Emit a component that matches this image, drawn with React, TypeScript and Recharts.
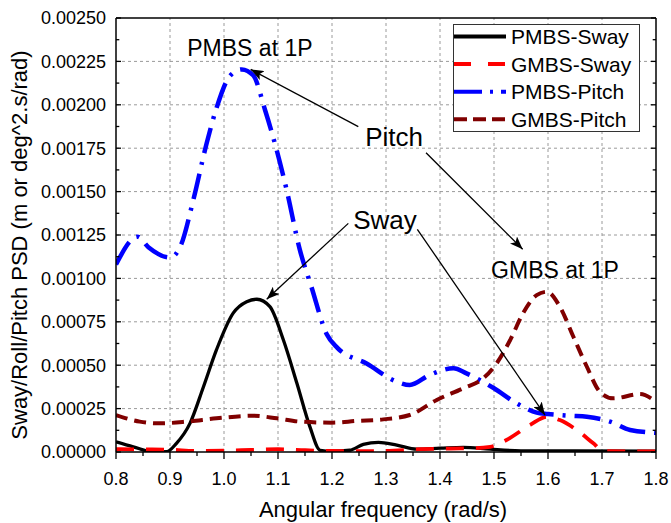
import React from "react";
import { LineChart, Line, XAxis, YAxis, ReferenceLine, ReferenceDot } from "recharts";

// PSD curves (rad/s vs PSD)
const pmbsSwayFreq = [0.8, 0.832, 0.869, 0.894, 0.912, 0.937, 0.962, 0.986, 1.017, 1.042, 1.061, 1.085, 1.11, 1.135, 1.159, 1.178, 1.2, 1.233, 1.258, 1.286, 1.32, 1.357, 1.4, 1.443, 1.493, 1.55, 1.65, 1.8];
const pmbsSwayPsd = [0.000059, 0.00003, 0.0, 0.000002, 0.00005, 0.000165, 0.000376, 0.000588, 0.0008, 0.000866, 0.00088, 0.000837, 0.000645, 0.000396, 0.000146, 0.00001, 0.000005, 0.00001, 0.000044, 0.000056, 0.00004, 0.000017, 0.000022, 0.000027, 0.000016, 0.000007, 0.000006, 0.000005];

const gmbsSwayFreq = [0.8, 0.85, 0.9, 0.95, 1.0, 1.05, 1.1, 1.15, 1.2, 1.25, 1.3, 1.363, 1.42, 1.456, 1.493, 1.523, 1.567, 1.598, 1.622, 1.653, 1.684, 1.702, 1.75, 1.8];
const gmbsSwayPsd = [0.000017, 0.000015, 0.000013, 0.000006, 0.000008, 0.000012, 0.000016, 0.00001, 0.000006, 0.000005, 0.000006, 0.000016, 0.00002, 0.000021, 0.00003, 0.000069, 0.000156, 0.000203, 0.000184, 0.000127, 0.00005, 0.000006, 0.000004, 0.000004];

const pmbsPitchFreq = [0.8, 0.84, 0.86, 0.9, 0.92, 0.943, 0.968, 0.986, 1.011, 1.033, 1.054, 1.076, 1.094, 1.116, 1.14, 1.162, 1.19, 1.21, 1.264, 1.32, 1.344, 1.381, 1.425, 1.449, 1.5, 1.542, 1.579, 1.6, 1.641, 1.672, 1.715, 1.752, 1.8];
const pmbsPitchPsd = [0.00108, 0.00124, 0.00118, 0.00112, 0.00119, 0.00145, 0.00178, 0.00198, 0.002166, 0.002204, 0.00217, 0.00197, 0.00178, 0.00151, 0.00117, 0.00095, 0.00068, 0.0006, 0.00051, 0.000405, 0.000386, 0.000444, 0.000482, 0.000453, 0.000367, 0.00028, 0.000227, 0.000219, 0.000209, 0.000203, 0.000175, 0.000127, 0.000111];

const gmbsPitchFreq = [0.8, 0.844, 0.881, 0.931, 0.986, 1.054, 1.098, 1.141, 1.2, 1.246, 1.295, 1.344, 1.394, 1.443, 1.48, 1.505, 1.53, 1.554, 1.579, 1.598, 1.622, 1.647, 1.672, 1.696, 1.721, 1.77, 1.8];
const gmbsPitchPsd = [0.000213, 0.000175, 0.000165, 0.000175, 0.000194, 0.000209, 0.000194, 0.000175, 0.000169, 0.000179, 0.000188, 0.000213, 0.0003, 0.000367, 0.000424, 0.000511, 0.000645, 0.0008, 0.000904, 0.000923, 0.000837, 0.000664, 0.000491, 0.000347, 0.000309, 0.000334, 0.00029];

const seriesNames = ["PMBS-Sway", "GMBS-Sway", "PMBS-Pitch", "GMBS-Pitch"];

const xMajorTicks = [0.8, 0.9, 1.0, 1.1, 1.2, 1.3, 1.4, 1.5, 1.6, 1.7, 1.8];
const xMinorTicks = [0.85, 0.95, 1.05, 1.15, 1.25, 1.35, 1.45, 1.55, 1.65, 1.75];
const yMajorTicks = [0, 0.00025, 0.0005, 0.00075, 0.001, 0.00125, 0.0015, 0.00175, 0.002, 0.00225, 0.0025];
const yMinorTicks = [0.000125, 0.000375, 0.000625, 0.000875, 0.001125, 0.001375, 0.001625, 0.001875, 0.002125, 0.002375];

// annotation labels and arrows, in data units
const noteTexts = ["PMBS at 1P", "Pitch", "Sway", "GMBS at 1P"];
const noteFreq = [1.048, 1.315, 1.298, 1.613];
const notePsd = [0.002327, 0.001815, 0.001336, 0.001048];
const arrowFromFreq = [1.2487, 1.3741, 1.2302, 1.358];
const arrowFromPsd = [0.001874, 0.001724, 0.001317, 0.001283];
const arrowToFreq = [1.0494, 1.5531, 1.0791, 1.5944];
const arrowToPsd = [0.002204, 0.001168, 0.00088, 0.000213];

const toPoints = (xs: number[], ys: number[]) => xs.map((x, i) => ({ x, y: ys[i] }));
const seriesData = [
  toPoints(pmbsSwayFreq, pmbsSwayPsd),
  toPoints(gmbsSwayFreq, gmbsSwayPsd),
  toPoints(pmbsPitchFreq, pmbsPitchPsd),
  toPoints(gmbsPitchFreq, gmbsPitchPsd),
];

const styles = [
  { color: "#000000", width: 3.3, dash: undefined as string | undefined, legendDash: undefined as string | undefined },
  { color: "#ff0000", width: 3.8, dash: "18 12", legendDash: "17 17" },
  { color: "#0000ff", width: 4.5, dash: "26 9 3 9", legendDash: "28 8 3 8" },
  { color: "#800000", width: 4, dash: "12 7", legendDash: "13 6" },
];

const FONT = "'Liberation Sans', Arial, sans-serif";
const noteSizes = [23, 26, 26, 23];

const XTick = (p: any) => {
  const major = xMajorTicks.includes(p.payload.value);
  return (
    <g>
      <line x1={p.x} y1={p.y} x2={p.x} y2={p.y + (major ? 7 : 4)} stroke="#000" strokeWidth={1.3} />
      {major && (
        <text x={p.x} y={p.y + 33} textAnchor="middle" fontSize={18} fill="#000">
          {p.payload.value.toFixed(1)}
        </text>
      )}
    </g>
  );
};

const YTickLeft = (p: any) => {
  const major = yMajorTicks.includes(p.payload.value);
  return (
    <g>
      <line x1={p.x} y1={p.y} x2={p.x + (major ? 5 : 3.3)} y2={p.y} stroke="#000" strokeWidth={1.3} />
      {major && (
        <text x={p.x - 10} y={p.y} dy={6.3} textAnchor="end" fontSize={18} fill="#000">
          {p.payload.value.toFixed(5)}
        </text>
      )}
    </g>
  );
};

const YTickRight = (p: any) => {
  const major = yMajorTicks.includes(p.payload.value);
  return <line x1={p.x} y1={p.y} x2={p.x - (major ? 5 : 3.3)} y2={p.y} stroke="#000" strokeWidth={1.3} />;
};

const Arrow = (p: any) => (
  <line x1={p.x1} y1={p.y1} x2={p.x2} y2={p.y2} stroke="#000" strokeWidth={1.3} markerEnd="url(#arrowHead)" />
);

function LegendBox() {
  return (
    <div
      style={{
        position: "absolute", left: 453, top: 24, width: 185, height: 106,
        background: "#fff", border: "1px solid #333",
      }}
    >
      <svg width={185} height={106} style={{ display: "block" }}>
        {seriesNames.map((name, i) => {
          const cy = 11.5 + i * 27.6;
          const s = styles[i];
          return (
            <g key={name}>
              <line x1={0} y1={cy} x2={52} y2={cy} stroke={s.color} strokeWidth={4} strokeDasharray={s.legendDash} />
              <text x={57} y={cy + 7.5} fontSize={21} fill="#000" fontFamily={FONT}>{name}</text>
            </g>
          );
        })}
      </svg>
    </div>
  );
}

export default function App() {
  return (
    <div style={{ position: "absolute", left: 0, top: 0, width: 671, height: 523, fontFamily: FONT, background: "#fff" }}>
      <svg width={0} height={0} style={{ position: "absolute" }}>
        <defs>
          <marker id="arrowHead" markerUnits="userSpaceOnUse" markerWidth={14} markerHeight={10} refX={13} refY={5} orient="auto">
            <path d="M0,0 L13,5 L0,10 L3,5 Z" fill="#000" />
          </marker>
        </defs>
      </svg>
      <LineChart width={671} height={523} margin={{ top: 18, right: 0, bottom: 0, left: 0 }}>
        <XAxis
          dataKey="x" type="number" domain={[0.8, 1.8]} allowDataOverflow
          ticks={[...xMajorTicks, ...xMinorTicks]} interval={0}
          tick={XTick} tickLine={false} tickSize={0} tickMargin={0}
          axisLine={{ stroke: "#000", strokeWidth: 1.5 }} height={71}
          label={{
            content: (lp: any) => (
              <text x={lp.viewBox.x + lp.viewBox.width / 2 - 3} y={lp.viewBox.y + 65} textAnchor="middle" fontSize={22} fill="#000">
                Angular frequency (rad/s)
              </text>
            ),
          }}
        />
        <YAxis
          yAxisId="left" type="number" domain={[0, 0.0025]} allowDataOverflow
          ticks={[...yMajorTicks, ...yMinorTicks]} interval={0}
          tick={YTickLeft} tickLine={false} tickSize={0} tickMargin={0}
          axisLine={{ stroke: "#000", strokeWidth: 1.5 }} width={116}
          label={{
            content: (lp: any) => {
              const cx = lp.viewBox.x + 19;
              const cy = lp.viewBox.y + lp.viewBox.height / 2 + 10;
              return (
                <text x={cx} y={cy} transform={`rotate(-90, ${cx}, ${cy})`} textAnchor="middle" dominantBaseline="central" fontSize={22} fill="#000">
                  Sway/Roll/Pitch PSD (m or deg^2.s/rad)
                </text>
              );
            },
          }}
        />
        <YAxis
          yAxisId="right" orientation="right" type="number" domain={[0, 0.0025]} allowDataOverflow
          ticks={[...yMajorTicks, ...yMinorTicks]} interval={0}
          tick={YTickRight} tickLine={false} tickSize={0} tickMargin={0}
          axisLine={{ stroke: "#000", strokeWidth: 1.5 }} width={15}
        />

        {xMajorTicks.slice(1, -1).map((v) => (
          <ReferenceLine key={"gx" + v} x={v} yAxisId="left" stroke="#9a9a9a" strokeWidth={1} strokeDasharray="3 3" />
        ))}
        {yMajorTicks.slice(1, -1).map((v) => (
          <ReferenceLine key={"gy" + v} y={v} yAxisId="left" stroke="#9a9a9a" strokeWidth={1} strokeDasharray="3 3" />
        ))}
        <ReferenceLine y={0.0025} yAxisId="left" stroke="#000" strokeWidth={1.5} />

        {seriesData.map((d, i) => (
          <Line
            key={seriesNames[i]} name={seriesNames[i]} data={d} dataKey="y" yAxisId="left"
            type="monotone" stroke={styles[i].color} strokeWidth={styles[i].width}
            strokeDasharray={styles[i].dash} dot={false} activeDot={false} isAnimationActive={false}
          />
        ))}

        {noteTexts.map((t, i) => (
          <ReferenceDot
            key={t} x={noteFreq[i]} y={notePsd[i]} yAxisId="left" r={0} fill="none" stroke="none"
            label={{ value: t, position: "center", fontSize: noteSizes[i], fill: "#000" }}
          />
        ))}
        {arrowFromFreq.map((f, i) => (
          <ReferenceLine
            key={"arrow" + i} yAxisId="left"
            segment={[{ x: f, y: arrowFromPsd[i] }, { x: arrowToFreq[i], y: arrowToPsd[i] }]}
            shape={Arrow}
          />
        ))}
      </LineChart>
      <LegendBox />
    </div>
  );
}
